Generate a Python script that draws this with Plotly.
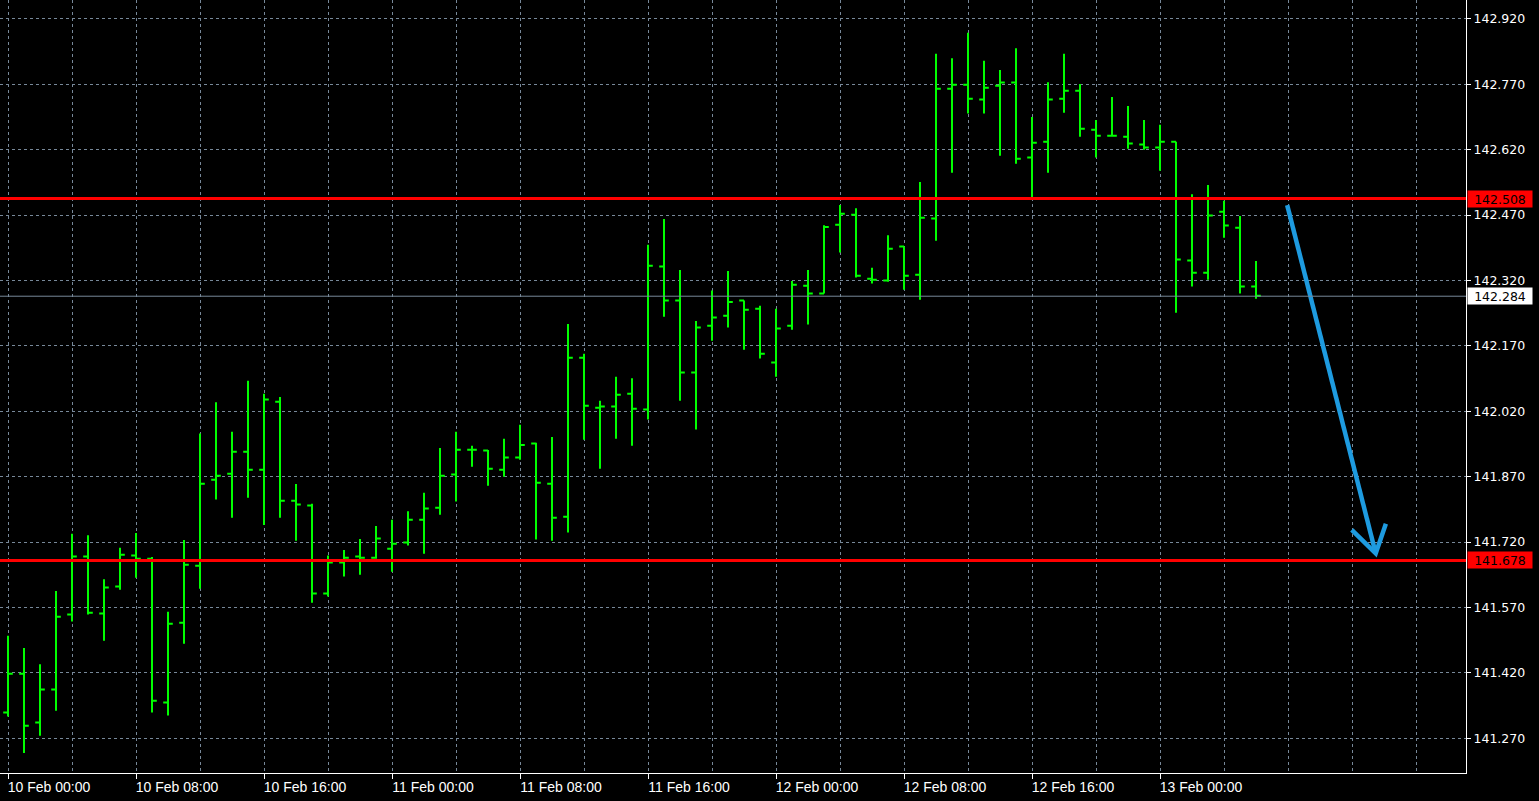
import pandas as pd
import plotly.graph_objects as go

# ---------------- data ----------------
start_time = "2025-02-10 00:00"

opens = [141.329, 141.418, 141.306, 141.382, 141.554, 141.687, 141.556, 141.618, 141.689, 141.682,
         141.352, 141.535, 141.666, 141.863, 141.877, 141.927, 141.886, 142.042, 141.815, 141.804,
         141.602, 141.673, 141.687, 141.684, 141.705, 141.719, 141.771, 141.799, 141.875, 141.932,
         141.930, 141.886, 141.914, 141.946, 141.854, 141.778, 142.143, 142.028, 142.031, 142.060,
         142.024, 142.352, 142.274, 142.109, 142.216, 142.239, 142.274, 142.255, 142.132, 142.216,
         142.308, 142.290, 142.448, 142.471, 142.324, 142.320, 142.398, 142.333, 142.462, 142.760,
         142.769, 142.735, 142.767, 142.774, 142.602, 142.638, 142.737, 142.755, 142.666, 142.652,
         142.650, 142.632, 142.625, 142.638, 142.366, 142.338, 142.478, 142.441, 142.306]
highs = [141.505, 141.477, 141.440, 141.608, 141.739, 141.736, 141.635, 141.707, 141.741, 141.686,
         141.560, 141.725, 141.969, 142.041, 141.973, 142.090, 142.060, 142.053, 141.853, 141.808,
         141.689, 141.702, 141.727, 141.757, 141.771, 141.791, 141.833, 141.936, 141.973, 141.941,
         141.931, 141.957, 141.989, 141.948, 141.961, 142.220, 142.152, 142.044, 142.099, 142.096,
         142.402, 142.461, 142.344, 142.227, 142.297, 142.342, 142.274, 142.262, 142.255, 142.319,
         142.344, 142.447, 142.493, 142.486, 142.349, 142.424, 142.398, 142.546, 142.840, 142.830,
         142.888, 142.824, 142.803, 142.853, 142.695, 142.775, 142.840, 142.771, 142.688, 142.741,
         142.720, 142.688, 142.677, 142.638, 142.518, 142.539, 142.503, 142.468, 142.365]
lows = [141.320, 141.236, 141.276, 141.333, 141.538, 141.554, 141.494, 141.611, 141.638, 141.329,
        141.322, 141.487, 141.613, 141.818, 141.776, 141.822, 141.759, 141.776, 141.723, 141.581,
        141.595, 141.641, 141.645, 141.682, 141.652, 141.712, 141.693, 141.783, 141.813, 141.893,
        141.849, 141.870, 141.909, 141.726, 141.723, 141.742, 141.955, 141.888, 141.957, 141.941,
        142.001, 142.237, 142.044, 141.978, 142.182, 142.212, 142.161, 142.141, 142.099, 142.207,
        142.219, 142.290, 142.384, 142.327, 142.313, 142.317, 142.299, 142.276, 142.411, 142.567,
        142.703, 142.703, 142.606, 142.588, 142.509, 142.567, 142.705, 142.650, 142.602, 142.652,
        142.622, 142.620, 142.572, 142.246, 142.306, 142.322, 142.418, 142.290, 142.278]
closes = [141.418, 141.299, 141.382, 141.549, 141.687, 141.558, 141.616, 141.691, 141.682, 141.356,
          141.533, 141.668, 141.854, 141.872, 141.927, 141.886, 142.047, 141.815, 141.806, 141.602,
          141.673, 141.684, 141.684, 141.728, 141.716, 141.771, 141.797, 141.872, 141.932, 141.932,
          141.888, 141.914, 141.943, 141.856, 141.776, 142.143, 142.033, 142.031, 142.058, 142.026,
          142.354, 142.274, 142.109, 142.212, 142.235, 142.271, 142.253, 142.152, 142.210, 142.310,
          142.290, 142.443, 142.473, 142.331, 142.322, 142.393, 142.331, 142.464, 142.760, 142.769,
          142.737, 142.762, 142.774, 142.599, 142.636, 142.735, 142.755, 142.668, 142.652, 142.652,
          142.634, 142.625, 142.638, 142.368, 142.338, 142.469, 142.446, 142.306, 142.285]

times = pd.date_range(start_time, periods=len(opens), freq="h")

# labelled time ticks (only up to the last bar's day, as in the reference)
x_tick_times = ["2025-02-10 00:00", "2025-02-10 08:00", "2025-02-10 16:00",
                "2025-02-11 00:00", "2025-02-11 08:00", "2025-02-11 16:00",
                "2025-02-12 00:00", "2025-02-12 08:00", "2025-02-12 16:00",
                "2025-02-13 00:00"]
x_tick_labels = ["10 Feb 00:00", "10 Feb 08:00", "10 Feb 16:00",
                 "11 Feb 00:00", "11 Feb 08:00", "11 Feb 16:00",
                 "12 Feb 00:00", "12 Feb 08:00", "12 Feb 16:00",
                 "13 Feb 00:00"]

resistance_level = 142.508
support_level = 141.678
last_price = 142.284

arrow_x = ["2025-02-13 07:57", "2025-02-13 13:29", None,
           "2025-02-13 11:59", "2025-02-13 13:29", "2025-02-13 14:07"]
arrow_y = [142.493, 141.694, None, 141.748, 141.694, 141.762]

y_ticks_start, y_ticks_step = 141.270, 0.150
x_view = ["2025-02-09 23:30", "2025-02-13 19:07:30"]
y_view = [141.1904, 142.9634]

# ---------------- styling ----------------
GREEN = "#00FF00"
GRID = "#778899"
AXIS_FONT = dict(family="DejaVu Sans", size=12.5, color="#FFFFFF")
X_FONT = dict(family="Liberation Sans Narrow, Liberation Sans", size=14, color="#FFFFFF")
H = 3600 * 1000

fig = go.Figure()
fig.add_trace(go.Ohlc(
    x=times, open=opens, high=highs, low=lows, close=closes,
    increasing=dict(line=dict(color=GREEN, width=2)),
    decreasing=dict(line=dict(color=GREEN, width=2)),
    tickwidth=0.3, hoverinfo="skip", showlegend=False,
))

fig.add_trace(go.Scatter(
    x=arrow_x, y=arrow_y, mode="lines",
    line=dict(color="#1E9BE0", width=4.5),
    hoverinfo="skip", showlegend=False, connectgaps=False,
))

# horizontal levels
for lvl, col, w in [(resistance_level, "#FF0000", 3), (support_level, "#FF0000", 3),
                    (last_price, GRID, 1)]:
    fig.add_shape(type="line", xref="paper", x0=0, x1=1, yref="y", y0=lvl, y1=lvl,
                  line=dict(color=col, width=w), layer="above")

# price labels on the axis
for lvl, bg in [(resistance_level, "#FF0000"), (support_level, "#FF0000"), (last_price, "#FFFFFF")]:
    fig.add_annotation(
        xref="paper", x=1, xanchor="left", xshift=1,
        yref="y", y=lvl, yanchor="middle",
        text=f"{lvl:.3f}", showarrow=False,
        bgcolor=bg, width=62, height=14, align="center",
        font=dict(family=AXIS_FONT["family"], size=AXIS_FONT["size"], color="#000000"),
        borderpad=1,
    )

fig.update_layout(
    width=1539, height=801,
    margin=dict(l=0, r=73, t=0, b=28, pad=0),
    paper_bgcolor="#000000", plot_bgcolor="#000000",
    showlegend=False,
    xaxis=dict(
        type="date", range=x_view, rangeslider=dict(visible=False),
        tickmode="array", tickvals=x_tick_times, ticktext=x_tick_labels,
        tickfont=X_FONT, ticklabelshift=41, ticklabelstandoff=-4,
        ticks="outside", ticklen=5, tickcolor="#FFFFFF", tickwidth=1,
        showgrid=True, gridcolor=GRID, gridwidth=1, griddash="3px,3px",
        minor=dict(tick0=start_time, dtick=4 * H, showgrid=True, gridcolor=GRID,
                   gridwidth=1, griddash="3px,3px", ticks=""),
        showline=True, linecolor="#FFFFFF", linewidth=1,
        zeroline=False, automargin=False, fixedrange=True,
    ),
    yaxis=dict(
        side="right", range=y_view,
        tickmode="linear", tick0=y_ticks_start, dtick=y_ticks_step,
        tickformat=".3f", tickfont=AXIS_FONT,
        ticks="outside", ticklen=4, tickcolor="#FFFFFF", tickwidth=1,
        showgrid=True, gridcolor=GRID, gridwidth=1, griddash="3px,3px",
        showline=True, linecolor="#FFFFFF", linewidth=1,
        zeroline=False, automargin=False, fixedrange=True,
    ),
)

fig.write_html(
    "out.html",
    config={"displayModeBar": False},
    post_script="document.body.style.margin='0';document.body.style.background='#000';",
)
